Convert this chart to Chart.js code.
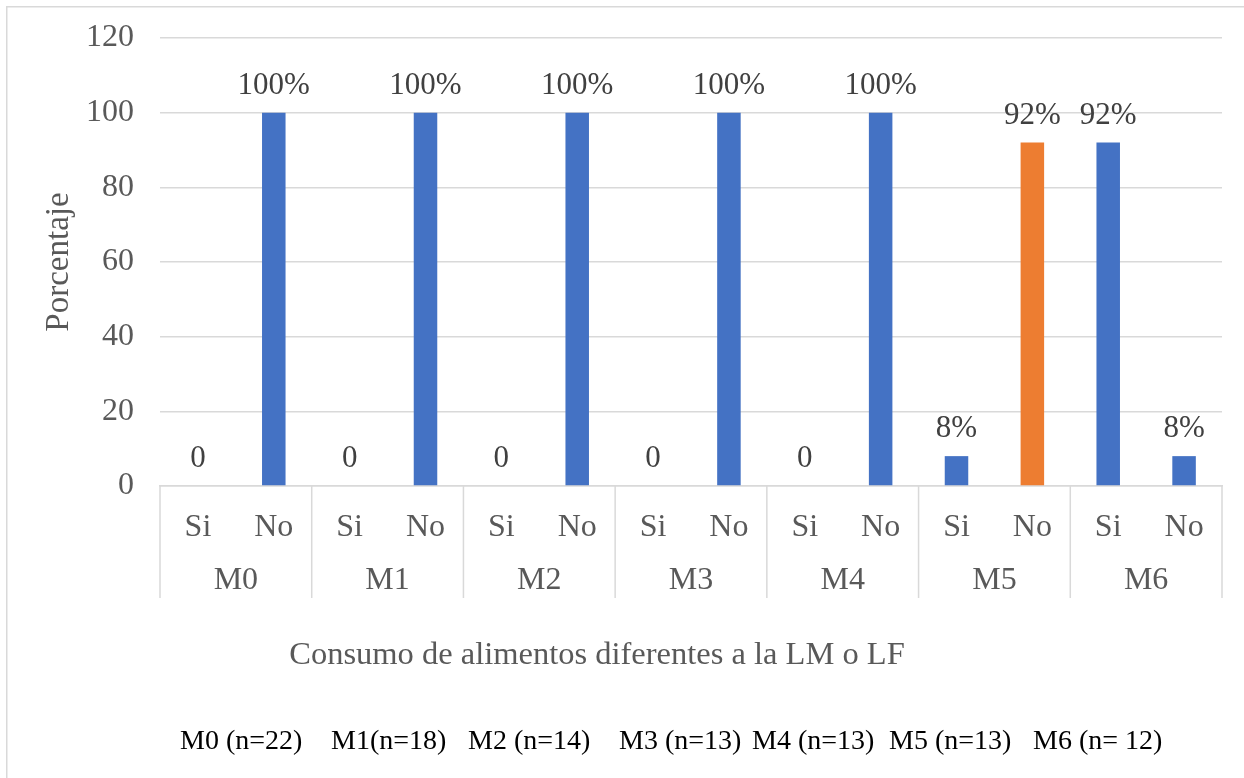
<!DOCTYPE html>
<html>
<head>
<meta charset="utf-8">
<script src="https://cdn.jsdelivr.net/npm/chart.js@4"></script>
<style>
  html, body { margin: 0; padding: 0; background: #ffffff; }
  #wrap { width: 1244px; height: 778px; }
</style>
</head>
<body>
<div id="wrap"><canvas id="chart" width="1244" height="778"></canvas></div>
<script>
// Months (groups) and the two answers inside each month
const months = ['M0', 'M1', 'M2', 'M3', 'M4', 'M5', 'M6'];
const answers = ['Si', 'No'];
// Percentages per month
const siValues = [0, 0, 0, 0, 0, 8, 92];
const noValues = [100, 100, 100, 100, 100, 92, 8];
// Sample size per month, shown under the chart
const sampleSizes = ['M0 (n=22)', 'M1(n=18)', 'M2 (n=14)', 'M3 (n=13)', 'M4 (n=13)', 'M5 (n=13)', 'M6 (n= 12)'];
// Axis texts and range
const xTitle = 'Consumo de alimentos diferentes a la LM o LF';
const yTitle = 'Porcentaje';
const yMax = 120;
const yStep = 20;

const SERIF = '"Liberation Serif", "Times New Roman", serif';
const BLUE = '#4472C4';
const ORANGE = '#ED7D31';
const GRID = '#d9d9d9';
const TEXT = '#595959';

// Flatten month/answer pairs into one category axis
const labels = [];
const values = [];
const colors = [];
months.forEach((m, i) => {
  labels.push(answers[0]); values.push(siValues[i]); colors.push(BLUE);
  labels.push(answers[1]); values.push(noValues[i]); colors.push(m === 'M5' ? ORANGE : BLUE);
});

// Outer frame, month row with separators, value labels, x title and the sample-size line
const decorations = {
  id: 'decorations',
  beforeDraw(chart) {
    const ctx = chart.ctx;
    ctx.save();
    ctx.strokeStyle = GRID;
    ctx.lineWidth = 1.5;
    ctx.beginPath();
    ctx.moveTo(6.75, chart.height + 5);
    ctx.lineTo(6.75, 6.75);
    ctx.lineTo(chart.width + 5, 6.75);
    ctx.stroke();
    ctx.restore();
  },
  afterDatasetsDraw(chart) {
    const ctx = chart.ctx;
    const meta = chart.getDatasetMeta(0);
    ctx.save();
    ctx.font = '31px ' + SERIF;
    ctx.fillStyle = '#404040';
    ctx.textAlign = 'center';
    ctx.textBaseline = 'middle';
    meta.data.forEach((bar, i) => {
      const v = values[i];
      const txt = v === 0 ? '0' : Math.round(v) + '%';
      ctx.fillText(txt, bar.x, bar.y - 27);
    });
    ctx.restore();
  },
  afterDraw(chart) {
    const ctx = chart.ctx;
    const x = chart.scales.x;
    const area = chart.chartArea;
    const sepBottom = area.bottom + 112;
    ctx.save();
    // group separators
    ctx.strokeStyle = GRID;
    ctx.lineWidth = 1.5;
    const edges = [area.left];
    for (let g = 1; g < months.length; g++) {
      edges.push((x.getPixelForValue(2 * g - 1) + x.getPixelForValue(2 * g)) / 2);
    }
    edges.push(area.right);
    ctx.beginPath();
    edges.forEach(ex => {
      ctx.moveTo(ex, area.bottom);
      ctx.lineTo(ex, sepBottom);
    });
    ctx.stroke();
    // month labels
    ctx.font = '32px ' + SERIF;
    ctx.fillStyle = TEXT;
    ctx.textAlign = 'center';
    ctx.textBaseline = 'middle';
    months.forEach((m, g) => {
      const cx = (x.getPixelForValue(2 * g) + x.getPixelForValue(2 * g + 1)) / 2;
      ctx.fillText(m, cx, area.bottom + 95);
    });
    // x axis title
    ctx.font = '32.5px ' + SERIF;
    ctx.fillText(xTitle, 597, 655);
    // sample sizes line
    const starts = [180, 331, 468, 619, 752, 889, 1033];
    ctx.font = '28px ' + SERIF;
    ctx.fillStyle = '#000000';
    ctx.textAlign = 'left';
    sampleSizes.forEach((s, i) => ctx.fillText(s, starts[i], 742));
    ctx.restore();
  }
};

new Chart(document.getElementById('chart'), {
  type: 'bar',
  data: {
    labels: labels,
    datasets: [{
      data: values,
      backgroundColor: colors,
      borderWidth: 0,
      barPercentage: 0.31,
      categoryPercentage: 1
    }]
  },
  options: {
    responsive: false,
    animation: false,
    devicePixelRatio: 1,
    layout: { padding: { left: 0, right: 22, top: 38, bottom: 0 } },
    plugins: {
      legend: { display: false },
      tooltip: { enabled: false }
    },
    scales: {
      x: {
        grid: { display: false },
        border: { display: true, color: GRID, width: 1.5 },
        ticks: {
          color: TEXT,
          font: { family: SERIF, size: 32 },
          padding: 14,
          autoSkip: false,
          maxRotation: 0
        },
        afterFit(scale) {
          scale.height = 292;
          scale.paddingLeft = 0;
          scale.paddingRight = 0;
        }
      },
      y: {
        min: 0,
        max: yMax,
        grid: { color: GRID, lineWidth: 1.5, drawTicks: false },
        border: { display: false },
        ticks: {
          stepSize: yStep,
          color: TEXT,
          font: { family: SERIF, size: 32 },
          padding: 26
        },
        title: {
          display: true,
          text: yTitle,
          color: TEXT,
          font: { family: SERIF, size: 33 },
          padding: { top: 40, bottom: 0 }
        },
        afterFit(scale) {
          scale.width = 160;
          scale.paddingTop = 0;
          scale.paddingBottom = 0;
        }
      }
    }
  },
  plugins: [decorations]
});
</script>
</body>
</html>
